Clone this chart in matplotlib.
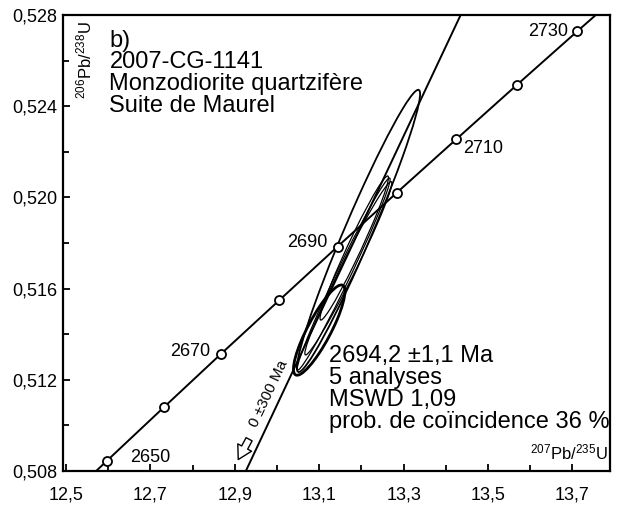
import numpy as np
import matplotlib
matplotlib.use("Agg")
import matplotlib.pyplot as plt
from matplotlib.patches import Ellipse
from matplotlib.ticker import FixedLocator, MultipleLocator, FuncFormatter

plt.rcParams['font.family'] = ['Liberation Sans', 'DejaVu Sans']
plt.rcParams['mathtext.default'] = 'regular'

# Concordia reference points (Ma) with their isotopic ratios
conc_age = [2640, 2650, 2660, 2670, 2680, 2690, 2700, 2710, 2720, 2730, 2740]
conc_207_235 = [12.4638, 12.5971, 12.7316, 12.8675, 13.0048, 13.1434,
                13.2834, 13.4247, 13.5675, 13.7117, 13.8573]
conc_206_238 = [0.50611, 0.50845, 0.51079, 0.51314, 0.51548, 0.51784,
                0.52020, 0.52255, 0.52492, 0.52729, 0.52966]
labelled_ages = [2650, 2670, 2690, 2710, 2730]

# Zircon analyses: ratio, 2 sigma, ratio, 2 sigma, error correlation
an_207_235 = [13.193, 13.100, 13.158, 13.169, 13.183]
an_207_235_err = [0.146, 0.0610, 0.110, 0.103, 0.081]
an_206_238 = [0.51853, 0.51418, 0.51664, 0.51689, 0.51778]
an_206_238_err = [0.00619, 0.00198, 0.00421, 0.00380, 0.00316]
an_rho = [0.970, 0.86, 0.986, 0.982, 0.975]
an_lw = [1.3, 2.0, 0.9, 0.9, 0.9]

# Discordia: lower intercept 0 Ma, upper intercept 2694.2 Ma
lower_int = (0.0, 0.0)
upper_int = (13.2020, 0.51884)

x_ticks = [12.5, 12.7, 12.9, 13.1, 13.3, 13.5, 13.7]
y_ticks = [0.508, 0.512, 0.516, 0.520, 0.524, 0.528]


def comma(fmt):
    return FuncFormatter(lambda v, p: fmt.format(v).replace('.', ','))


fig = plt.figure(figsize=(6.21, 5.08), dpi=100)
ax = fig.add_axes([63 / 621, 37 / 508, 547 / 621, 456 / 508])
ax.set_xlim(12.4929, 13.789)
ax.set_ylim(0.508, 0.528)

# concordia curve with age markers
ax.plot(conc_207_235, conc_206_238, color='black', lw=1.4, zorder=3)
ax.plot(conc_207_235[1:-1], conc_206_238[1:-1], ls='none', marker='o',
        ms=6.5, mfc='white', mec='black', mew=1.3, zorder=4)

offsets = {2650: (17, 2, 'left'), 2670: (-8, 2, 'right'),
           2690: (-7, 3, 'right'), 2710: (5, -7, 'left'),
           2730: (-7, 0, 'right')}
for age in labelled_ages:
    i = conc_age.index(age)
    dx, dy, ha = offsets[age]
    ax.annotate(str(age), (conc_207_235[i], conc_206_238[i]),
                xytext=(dx, dy), textcoords='offset points',
                ha=ha, va='center', fontsize=13, zorder=5)

# discordia line through both intercepts
ax.axline(lower_int, upper_int, color='black', lw=1.4, zorder=2)

# error ellipses
for x, sx, y, sy, r, lw in zip(an_207_235, an_207_235_err, an_206_238,
                                an_206_238_err, an_rho, an_lw):
    cov = np.array([[sx * sx, r * sx * sy], [r * sx * sy, sy * sy]])
    vals, vecs = np.linalg.eigh(cov)
    angle = np.degrees(np.arctan2(vecs[1, 1], vecs[0, 1]))
    ax.add_patch(Ellipse((x, y), 2 * np.sqrt(vals[1]), 2 * np.sqrt(vals[0]),
                         angle=angle, fill=False, ec='black', lw=lw, zorder=3))

# lower intercept label along the discordia
slope = upper_int[1] / upper_int[0]
p0 = ax.transData.transform((0.509447 / slope, 0.509447))
p1 = ax.transData.transform((0.512 / slope, 0.512))
line_angle = np.degrees(np.arctan2(p1[1] - p0[1], p1[0] - p0[0]))
ax.annotate('0 \u00b1300 Ma', (0.5097 / slope, 0.5097), xytext=(-3, 2),
            textcoords='offset points', rotation=line_angle,
            rotation_mode='anchor', ha='left', va='bottom', fontsize=11)
ax.annotate('', xy=(12.905, 0.508395), xytext=(12.937, 0.50950),
            arrowprops=dict(arrowstyle='simple,head_length=0.7,head_width=0.8,tail_width=0.35',
                            mutation_scale=14, fc='white', ec='black', lw=1))

# sample description
ax.text(0.085, 0.968, 'b)\n2007-CG-1141\nMonzodiorite quartzifère\nSuite de Maurel',
        transform=ax.transAxes, ha='left', va='top', fontsize=17,
        linespacing=0.98)
ax.text(0.487, 0.277, '2694,2 \u00b11,1 Ma\n5 analyses\nMSWD 1,09\n'
        'prob. de coïncidence 36 %', transform=ax.transAxes, ha='left',
        va='top', fontsize=17, linespacing=1.0)

# axis titles drawn inside the frame
ax.text(0.040, 0.985, r'$^{206}$Pb/$^{238}$U', transform=ax.transAxes,
        rotation=90, ha='center', va='top', fontsize=12)
ax.text(0.995, 0.018, r'$^{207}$Pb/$^{235}$U', transform=ax.transAxes,
        ha='right', va='bottom', fontsize=12)

ax.xaxis.set_major_locator(FixedLocator(x_ticks))
ax.xaxis.set_minor_locator(MultipleLocator(0.1))
ax.yaxis.set_major_locator(FixedLocator(y_ticks))
ax.yaxis.set_minor_locator(MultipleLocator(0.002))
ax.xaxis.set_major_formatter(comma('{:.1f}'))
ax.yaxis.set_major_formatter(comma('{:.3f}'))
ax.tick_params(which='both', direction='in', top=False, right=False,
               labelsize=13, width=1.3)
ax.tick_params(which='major', length=5)
ax.tick_params(which='minor', length=4)
ax.tick_params(axis='x', pad=11)
ax.tick_params(axis='y', pad=4)
for s in ax.spines.values():
    s.set_linewidth(1.6)

fig.savefig('out.png', dpi=100)
